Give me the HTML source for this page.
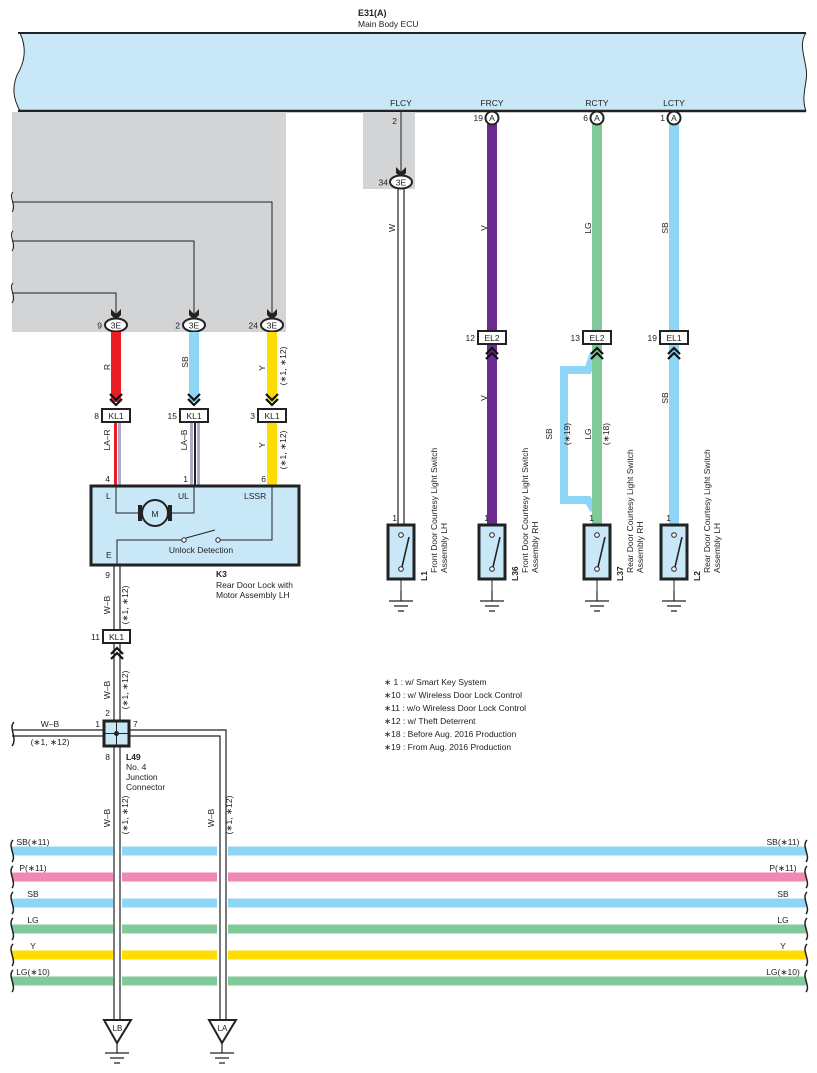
<!DOCTYPE html>
<html><head><meta charset="utf-8"><style>
html,body{margin:0;padding:0;background:#fff}
svg{display:block}
text{font-family:"Liberation Sans",sans-serif;fill:#222}
</style></head><body>
<svg width="817" height="1073" viewBox="0 0 817 1073" xmlns="http://www.w3.org/2000/svg">
<defs>
<g id="chev"><path d="M-6,-8 L0,-2 L6,-8 M-6,-3 L0,3 L6,-3" fill="none" stroke="#111" stroke-width="2.2"/></g>
<g id="chevup"><path d="M-6,8 L0,2 L6,8 M-6,3 L0,-3 L6,3" fill="none" stroke="#111" stroke-width="2.2"/></g>
<g id="clamp"><path d="M-5,-9 L0,-4 L5,-9 L5,-3 L0,2 L-5,-3 Z" fill="#222"/></g>
<g id="gnd"><path d="M0,0 V10 M-12,10 H12 M-7,15 H7 M-3,20 H3" stroke="#222" stroke-width="1.2" fill="none"/></g>
<g id="sw"><rect x="-13" y="0" width="26" height="54" fill="#c8e8f8" stroke="#222" stroke-width="3"/><circle cx="0" cy="10" r="2.3" fill="#fff" stroke="#222"/><circle cx="0" cy="44" r="2.3" fill="#fff" stroke="#222"/><path d="M1,42 L8,12" stroke="#222" stroke-width="1.6"/><path d="M0,54 V66" stroke="#222"/></g>
</defs>

<!-- ECU -->
<text x="358" y="16" font-size="9" font-weight="bold">E31(A)</text>
<text x="358" y="27" font-size="8.5">Main Body ECU</text>
<path d="M20,33 H806 C799,43 804,55 806,68 C809,80 800,95 806,111 H20 C13,98 12,88 17,75 C25,62 27,48 20,33 Z" fill="#c8e8f8"/>
<path d="M18,33 H806" stroke="#222" stroke-width="2"/>
<path d="M18,111 H806" stroke="#222" stroke-width="2.5"/>
<path d="M20,33 C27,48 25,62 17,75 C12,88 13,98 20,111" fill="none" stroke="#222" stroke-width="1"/>
<path d="M806,33 C799,43 804,55 806,68 C809,80 800,95 806,111" fill="none" stroke="#222" stroke-width="1"/>
<text x="401" y="106" font-size="8.5" text-anchor="middle">FLCY</text>
<text x="492" y="106" font-size="8.5" text-anchor="middle">FRCY</text>
<text x="597" y="106" font-size="8.5" text-anchor="middle">RCTY</text>
<text x="674" y="106" font-size="8.5" text-anchor="middle">LCTY</text>

<!-- gray areas -->
<rect x="12" y="112" width="274" height="220" fill="#d3d4d6"/>
<rect x="363" y="112" width="52" height="77" fill="#d3d4d6"/>

<!-- left wires in gray -->
<g fill="none" stroke="#222" stroke-width="1">
<path d="M12,202 H272 V318"/><path d="M12,241 H194 V318"/><path d="M12,293 H116 V318"/>
<path d="M13,192 C8,197 17,205 12,212" /><path d="M13,231 C8,236 17,244 12,251"/><path d="M13,283 C8,288 17,296 12,303"/>
</g>
<!-- 3E connectors -->
<g font-size="8.5">
<use href="#clamp" x="116" y="318"/><ellipse cx="116" cy="325" rx="11" ry="6.5" fill="#fff" stroke="#222" stroke-width="2"/><text x="116" y="328.5" text-anchor="middle">3E</text><text x="102" y="328.5" text-anchor="end">9</text>
<use href="#clamp" x="194" y="318"/><ellipse cx="194" cy="325" rx="11" ry="6.5" fill="#fff" stroke="#222" stroke-width="2"/><text x="194" y="328.5" text-anchor="middle">3E</text><text x="180" y="328.5" text-anchor="end">2</text>
<use href="#clamp" x="272" y="318"/><ellipse cx="272" cy="325" rx="11" ry="6.5" fill="#fff" stroke="#222" stroke-width="2"/><text x="272" y="328.5" text-anchor="middle">3E</text><text x="258" y="328.5" text-anchor="end">24</text>
</g>
<!-- colored wires -->
<rect x="111" y="332" width="10" height="70" fill="#ec1c24"/>
<rect x="189" y="332" width="10" height="70" fill="#8dd6f5"/>
<rect x="267" y="332" width="10" height="70" fill="#ffdd00"/>
<use href="#chev" x="116" y="402"/><use href="#chev" x="194" y="402"/><use href="#chev" x="272" y="402"/>
<g font-size="8.5">
<text transform="translate(110,367) rotate(-90)" text-anchor="middle">R</text>
<text transform="translate(188,362) rotate(-90)" text-anchor="middle">SB</text>
<text transform="translate(265,368) rotate(-90)" text-anchor="middle">Y</text>
<text transform="translate(286,366) rotate(-90)" text-anchor="middle">(∗1, ∗12)</text>
<!-- KL1 -->
<rect x="102" y="409" width="28" height="13" fill="#fff" stroke="#222" stroke-width="2"/><text x="116" y="419" text-anchor="middle">KL1</text><text x="99" y="419" text-anchor="end">8</text>
<rect x="180" y="409" width="28" height="13" fill="#fff" stroke="#222" stroke-width="2"/><text x="194" y="419" text-anchor="middle">KL1</text><text x="177" y="419" text-anchor="end">15</text>
<rect x="258" y="409" width="28" height="13" fill="#fff" stroke="#222" stroke-width="2"/><text x="272" y="419" text-anchor="middle">KL1</text><text x="255" y="419" text-anchor="end">3</text>
</g>
<!-- below KL1 -->
<rect x="114" y="423" width="3" height="62" fill="#ec1c24"/><rect x="118" y="423" width="3" height="62" fill="#b0a8c8"/>
<rect x="190" y="423" width="3" height="62" fill="#b0a8c8"/><rect x="194" y="423" width="2" height="62" fill="#222"/><rect x="197" y="423" width="3" height="62" fill="#b0a8c8"/>
<rect x="267" y="423" width="10" height="62" fill="#ffdd00"/>
<g font-size="8.5">
<text transform="translate(110,440) rotate(-90)" text-anchor="middle">LA–R</text>
<text transform="translate(187,440) rotate(-90)" text-anchor="middle">LA–B</text>
<text transform="translate(265,445) rotate(-90)" text-anchor="middle">Y</text>
<text transform="translate(286,450) rotate(-90)" text-anchor="middle">(∗1, ∗12)</text>
<text x="110" y="482" text-anchor="end">4</text><text x="188" y="482" text-anchor="end">1</text><text x="266" y="482" text-anchor="end">6</text>
</g>
<!-- K3 box -->
<rect x="91" y="486" width="208" height="79" fill="#c8e8f8" stroke="#222" stroke-width="3"/>
<g fill="none" stroke="#222" stroke-width="1">
<path d="M116,486 V513 H139"/><path d="M194,486 V513 H171"/>
<path d="M117,565 V540 H183"/><path d="M219,540 H272 V486"/><path d="M186,538 L215,530"/>
</g>
<circle cx="184" cy="540" r="2.2" fill="#fff" stroke="#222"/><circle cx="218" cy="540" r="2.2" fill="#fff" stroke="#222"/>
<rect x="138" y="505" width="4" height="16" fill="#222"/><rect x="168" y="505" width="4" height="16" fill="#222"/>
<circle cx="155" cy="513" r="13" fill="#c8e8f8" stroke="#222" stroke-width="2"/>
<g font-size="8.5">
<text x="155" y="517" text-anchor="middle">M</text>
<text x="106" y="499">L</text><text x="178" y="499">UL</text><text x="244" y="499">LSSR</text><text x="106" y="558">E</text>
<text x="201" y="553" text-anchor="middle">Unlock Detection</text>
<text x="216" y="577" font-weight="bold">K3</text>
<text x="216" y="588">Rear Door Lock with</text>
<text x="216" y="598">Motor Assembly LH</text>
</g>
<!-- W-B down from K3 -->
<g fill="none" stroke="#222" stroke-width="1.2">
<path d="M114,566 V629 M120,566 V629"/>
<path d="M114,644 V722 M120,644 V722"/>
<path d="M114,747 V1020 M120,747 V1020"/>
<path d="M12,730 H104 M12,736 H104"/>
<path d="M130,730 H226 V1020 M130,736 H220 V1020"/>
<path d="M14,722 C8,728 18,738 12,746" stroke-width="1.5"/>
</g>
<use href="#chevup" x="117" y="651"/>
<g font-size="8.5">
<text x="110" y="578" text-anchor="end">9</text>
<text transform="translate(110,605) rotate(-90)" text-anchor="middle">W–B</text>
<text transform="translate(128,605) rotate(-90)" text-anchor="middle">(∗1, ∗12)</text>
<rect x="103" y="630" width="27" height="13" fill="#fff" stroke="#222" stroke-width="2"/><text x="116.5" y="640" text-anchor="middle">KL1</text><text x="100" y="640" text-anchor="end">11</text>
<text transform="translate(110,690) rotate(-90)" text-anchor="middle">W–B</text>
<text transform="translate(128,690) rotate(-90)" text-anchor="middle">(∗1, ∗12)</text>
<text x="110" y="716" text-anchor="end">2</text>
<text x="100" y="727" text-anchor="end">1</text><text x="133" y="727">7</text><text x="110" y="760" text-anchor="end">8</text>
<text x="50" y="727" text-anchor="middle">W–B</text>
<text x="50" y="745" text-anchor="middle">(∗1, ∗12)</text>
<text x="126" y="760" font-weight="bold">L49</text>
<text x="126" y="770">No.  4</text><text x="126" y="780">Junction</text><text x="126" y="790">Connector</text>
<text transform="translate(110,818) rotate(-90)" text-anchor="middle">W–B</text>
<text transform="translate(128,815) rotate(-90)" text-anchor="middle">(∗1, ∗12)</text>
<text transform="translate(214,818) rotate(-90)" text-anchor="middle">W–B</text>
<text transform="translate(232,815) rotate(-90)" text-anchor="middle">(∗1, ∗12)</text>
</g>
<rect x="104" y="721" width="25" height="25" fill="#c8e8f8" stroke="#222" stroke-width="3"/>
<path d="M116.5,721 V746 M104,733.5 H129" stroke="#222"/><circle cx="116.5" cy="733.5" r="2.5" fill="#222"/>

<!-- bus lines -->
<g stroke-width="9">
<path d="M12,851 H806" stroke="#8dd6f5"/>
<path d="M12,877 H806" stroke="#f088b6"/>
<path d="M12,903 H806" stroke="#8dd6f5"/>
<path d="M12,929 H806" stroke="#80c998"/>
<path d="M12,955 H806" stroke="#ffdd00"/>
<path d="M12,981 H806" stroke="#80c998"/>
</g>
<rect x="113" y="840" width="9" height="150" fill="#fff"/><rect x="217" y="840" width="11" height="150" fill="#fff"/>
<g fill="none" stroke="#222" stroke-width="1.2"><path d="M114,840 V990 M120,840 V990 M220,840 V990 M226,840 V990"/></g>
<g fill="none" stroke="#222" stroke-width="1.5">
<path d="M13,840 C7,846 17,856 12,862"/><path d="M13,866 C7,872 17,882 12,888"/><path d="M13,892 C7,898 17,908 12,914"/><path d="M13,918 C7,924 17,934 12,940"/><path d="M13,944 C7,950 17,960 12,966"/><path d="M13,970 C7,976 17,986 12,992"/>
<path d="M807,840 C801,846 811,856 806,862"/><path d="M807,866 C801,872 811,882 806,888"/><path d="M807,892 C801,898 811,908 806,914"/><path d="M807,918 C801,924 811,934 806,940"/><path d="M807,944 C801,950 811,960 806,966"/><path d="M807,970 C801,976 811,986 806,992"/>
</g>
<g font-size="8.5" text-anchor="middle">
<text x="33" y="845">SB(∗11)</text><text x="33" y="871">P(∗11)</text><text x="33" y="897">SB</text><text x="33" y="923">LG</text><text x="33" y="949">Y</text><text x="33" y="975">LG(∗10)</text>
<text x="783" y="845">SB(∗11)</text><text x="783" y="871">P(∗11)</text><text x="783" y="897">SB</text><text x="783" y="923">LG</text><text x="783" y="949">Y</text><text x="783" y="975">LG(∗10)</text>
</g>
<!-- grounds LB LA -->
<path d="M104,1020 H131 L117,1043 Z" fill="#fff" stroke="#222" stroke-width="2"/>
<path d="M209,1020 H236 L222,1043 Z" fill="#fff" stroke="#222" stroke-width="2"/>
<text x="117.5" y="1031" font-size="8" text-anchor="middle">LB</text><text x="222.5" y="1031" font-size="8" text-anchor="middle">LA</text>
<use href="#gnd" x="117" y="1043"/><use href="#gnd" x="222" y="1043"/>

<!-- right side -->
<path d="M401,111 V176" stroke="#222" stroke-width="1"/>
<use href="#clamp" x="401" y="176"/>
<ellipse cx="401" cy="182" rx="11" ry="6.5" fill="#fff" stroke="#222" stroke-width="2"/>
<g font-size="8.5"><text x="401" y="185.5" text-anchor="middle">3E</text><text x="388" y="185.5" text-anchor="end">34</text><text x="397" y="124" text-anchor="end">2</text></g>
<path d="M398,189 V524 M404,189 V524" stroke="#222" stroke-width="1.2"/>
<text transform="translate(395,228) rotate(-90)" font-size="8.5" text-anchor="middle">W</text>

<rect x="487" y="124" width="10" height="207" fill="#6b2a8f"/>
<rect x="592" y="124" width="10" height="207" fill="#80c998"/>
<rect x="669" y="124" width="10" height="207" fill="#8dd6f5"/>
<g font-size="8.5">
<circle cx="492" cy="118" r="6.5" fill="#fff" stroke="#222" stroke-width="2"/><text x="492" y="121" text-anchor="middle">A</text><text x="483" y="121" text-anchor="end">19</text>
<circle cx="597" cy="118" r="6.5" fill="#fff" stroke="#222" stroke-width="2"/><text x="597" y="121" text-anchor="middle">A</text><text x="588" y="121" text-anchor="end">6</text>
<circle cx="674" cy="118" r="6.5" fill="#fff" stroke="#222" stroke-width="2"/><text x="674" y="121" text-anchor="middle">A</text><text x="665" y="121" text-anchor="end">1</text>
<text transform="translate(487,228) rotate(-90)" text-anchor="middle">V</text>
<text transform="translate(591,228) rotate(-90)" text-anchor="middle">LG</text>
<text transform="translate(668,228) rotate(-90)" text-anchor="middle">SB</text>
</g>
<!-- SB bypass -->
<path d="M594,353 L588,370 H564 V500 H588 L594,510" fill="none" stroke="#8dd6f5" stroke-width="8"/>
<rect x="487" y="344" width="10" height="180" fill="#6b2a8f"/>
<rect x="592" y="344" width="10" height="180" fill="#80c998"/>
<rect x="669" y="344" width="10" height="180" fill="#8dd6f5"/>
<use href="#chevup" x="492" y="351"/><use href="#chevup" x="597" y="351"/><use href="#chevup" x="674" y="351"/>
<g font-size="8.5">
<rect x="478" y="331" width="28" height="13" fill="#fff" stroke="#222" stroke-width="2"/><text x="492" y="341" text-anchor="middle">EL2</text><text x="475" y="341" text-anchor="end">12</text>
<rect x="583" y="331" width="28" height="13" fill="#fff" stroke="#222" stroke-width="2"/><text x="597" y="341" text-anchor="middle">EL2</text><text x="580" y="341" text-anchor="end">13</text>
<rect x="660" y="331" width="28" height="13" fill="#fff" stroke="#222" stroke-width="2"/><text x="674" y="341" text-anchor="middle">EL1</text><text x="657" y="341" text-anchor="end">19</text>
<text transform="translate(487,398) rotate(-90)" text-anchor="middle">V</text>
<text transform="translate(552,434) rotate(-90)" text-anchor="middle">SB</text>
<text transform="translate(570,434) rotate(-90)" text-anchor="middle">(∗19)</text>
<text transform="translate(591,434) rotate(-90)" text-anchor="middle">LG</text>
<text transform="translate(609,434) rotate(-90)" text-anchor="middle">(∗18)</text>
<text transform="translate(668,398) rotate(-90)" text-anchor="middle">SB</text>
<text x="397" y="521" text-anchor="end">1</text><text x="489" y="521" text-anchor="end">1</text><text x="594" y="521" text-anchor="end">1</text><text x="671" y="521" text-anchor="end">1</text>
</g>
<use href="#sw" x="401" y="525"/><use href="#sw" x="492" y="525"/><use href="#sw" x="597" y="525"/><use href="#sw" x="674" y="525"/>
<use href="#gnd" x="401" y="591"/><use href="#gnd" x="492" y="591"/><use href="#gnd" x="597" y="591"/><use href="#gnd" x="674" y="591"/>
<g font-size="8.5">
<g transform="translate(427,581) rotate(-90)"><text x="0" y="0" font-weight="bold">L1</text><text x="8" y="10">Front Door Courtesy Light Switch</text><text x="8" y="20">Assembly LH</text></g>
<g transform="translate(518,581) rotate(-90)"><text x="0" y="0" font-weight="bold">L36</text><text x="8" y="10">Front Door Courtesy Light Switch</text><text x="8" y="20">Assembly RH</text></g>
<g transform="translate(623,581) rotate(-90)"><text x="0" y="0" font-weight="bold">L37</text><text x="8" y="10">Rear Door Courtesy Light Switch</text><text x="8" y="20">Assembly RH</text></g>
<g transform="translate(700,581) rotate(-90)"><text x="0" y="0" font-weight="bold">L2</text><text x="8" y="10">Rear Door Courtesy Light Switch</text><text x="8" y="20">Assembly LH</text></g>
</g>
<!-- legend -->
<g font-size="8.5">
<text x="384" y="685">∗ 1 : w/ Smart Key System</text>
<text x="384" y="698">∗10 : w/ Wireless Door Lock Control</text>
<text x="384" y="711">∗11 : w/o Wireless Door Lock Control</text>
<text x="384" y="724">∗12 : w/ Theft Deterrent</text>
<text x="384" y="737">∗18 : Before Aug.  2016 Production</text>
<text x="384" y="750">∗19 : From Aug.  2016 Production</text>
</g>
</svg>
</body></html>
